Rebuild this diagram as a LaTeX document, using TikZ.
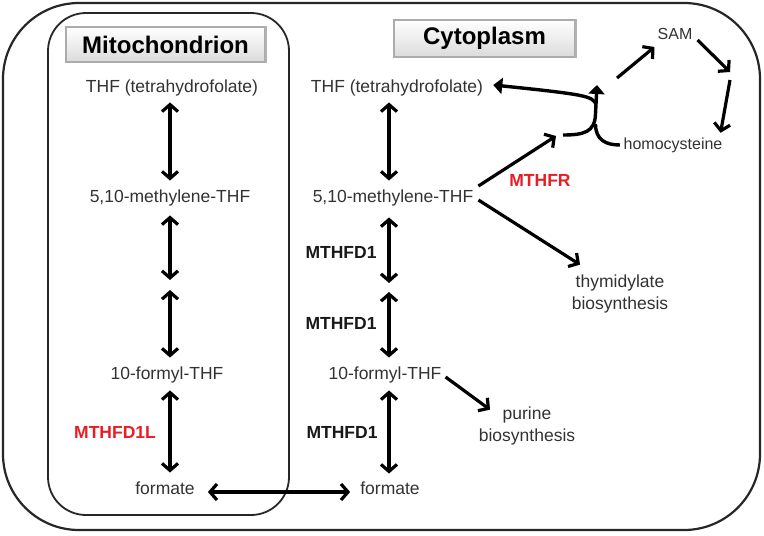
\documentclass[tikz,border=0pt]{standalone}
\usepackage{fontspec}
\setmainfont{Liberation Sans}
\usetikzlibrary{arrows.meta}
\definecolor{txt}{RGB}{50,50,50}
\definecolor{enz}{RGB}{25,25,25}
\definecolor{redenz}{RGB}{232,30,38}
\begin{document}
\begin{tikzpicture}[x=1pt,y=-1pt,
  lbl/.style={font=\fontsize{17.5}{22}\selectfont, text=txt, inner sep=0pt, text height=12.5pt, text depth=4pt},
  prod/.style={font=\fontsize{17.5}{22}\selectfont, text=txt, inner sep=0pt, align=center},
  small/.style={font=\fontsize{16}{19}\selectfont, text=txt, inner sep=0pt, text height=11.5pt, text depth=3.5pt},
  enzyme/.style={font=\fontsize{17.5}{20}\selectfont\bfseries, text=enz, inner sep=0pt},
  redenzyme/.style={enzyme, text=redenz},
  header/.style={font=\fontsize{24}{28}\selectfont\bfseries, text=black, draw=gray!65, line width=1.2pt, top color=white, bottom color=gray!28, inner sep=0pt},
  rxn/.style={line width=3.2pt, {Straight Barb[length=7pt,width=16pt]}-{Straight Barb[length=7pt,width=16pt]}},
  fwd/.style={line width=3.2pt, -{Straight Barb[length=7pt,width=16pt]}},
  curl/.style={line width=3.4pt},
  bigtip/.style={line width=3.4pt, -{Triangle[length=9pt,width=16pt]}},
  compartment/.style={draw=black!85},
]
\useasboundingbox (0,0) rectangle (764,536);

% compartments
\draw[compartment, line width=2.2pt, rounded corners=76pt] (3,3) rectangle (760,530);
\draw[compartment, line width=1.8pt, rounded corners=38pt] (48,13) rectangle (289,515);

% headers
\node[header, minimum width=199pt, minimum height=35pt] (hMito) at (165.5,44.5) {Mitochondrion};
\node[header, minimum width=181pt, minimum height=37pt] (hCyto) at (484.5,38.5) {Cytoplasm};
\draw[gray!60, line width=2pt] (hMito.north east) -- (hMito.south east);
\draw[gray!60, line width=2pt] (hCyto.north east) -- (hCyto.south east);

% column axes
\coordinate (mCol) at (170,0);
\coordinate (cCol) at (389,0);

% mitochondrion column
\node[lbl] (mTHF) at (172,88) {THF (tetrahydrofolate)};
\node[lbl] (mMeth) at (170,198) {5,10-methylene-THF};
\coordinate (mMid) at (170,285);
\node[lbl] (mForm) at (167,375) {10-formyl-THF};
\node[lbl] (mFormate) at (165,490) {formate};
\node[redenzyme] (mL) at (115,432) {MTHFD1L};

\draw[rxn, shorten <=6pt, shorten >=9pt] (mTHF.south -| mCol) -- (mMeth.north -| mCol);
\draw[rxn, shorten <=9pt, shorten >=5pt] (mMeth.south -| mCol) -- (mMid);
\draw[rxn, shorten <=5pt, shorten >=9pt] (mMid) -- (mForm.north -| mCol);
\draw[rxn, shorten <=7pt, shorten >=9pt] (mForm.south -| mCol) -- (mFormate.north -| mCol);

% cytoplasm column
\node[lbl] (cTHF) at (397,88) {THF (tetrahydrofolate)};
\node[lbl] (cMeth) at (393,198) {5,10-methylene-THF};
\coordinate (cMid) at (389,287.5);
\node[lbl] (cForm) at (385,375) {10-formyl-THF};
\node[lbl] (cFormate) at (390,490) {formate};
\node[enzyme] (e1) at (341,252) {MTHFD1};
\node[enzyme] (e2) at (341,323) {MTHFD1};
\node[enzyme] (e3) at (342,432) {MTHFD1};

\draw[rxn, shorten <=6pt, shorten >=9pt] (cTHF.south -| cCol) -- (cMeth.north -| cCol);
\draw[rxn, shorten <=11pt, shorten >=4.5pt] (cMeth.south -| cCol) -- (cMid);
\draw[rxn, shorten <=4.5pt, shorten >=9pt] (cMid) -- (cForm.north -| cCol);
\draw[rxn, shorten <=7pt, shorten >=8pt] (cForm.south -| cCol) -- (cFormate.north -| cCol);

% formate exchange
\draw[rxn, shorten <=13pt, shorten >=10pt] ([yshift=-2pt]mFormate.east) -- ([yshift=-2pt]cFormate.west);

% products
\node[prod] (thy) at (620,294) {thymidylate\\biosynthesis};
\node[prod] (pur) at (527,426) {purine\\biosynthesis};
\draw[fwd] ([shift={(5pt,-2pt)}]cMeth.east) -- ([shift={(-40pt,10pt)}]thy.north);
\draw[fwd] ([shift={(4pt,-2pt)}]cForm.east) -- ([shift={(-37pt,-3pt)}]pur.north);

% MTHFR branch and methionine cycle
\node[redenzyme] (mthfr) at (540,180) {MTHFR};
\node[small] (sam) at (675,35) {SAM};
\node[small] (hcy) at (673,145) {homocysteine};
\coordinate (jIn) at (556,136);
\coordinate (jL) at (563,135);
\coordinate (jTop) at (597,85);
\coordinate (jMid) at (596,104);
\coordinate (jOut) at (617,78);
\coordinate (cyc1) at (730,72);
\coordinate (cyc2) at (730,80);

\draw[fwd] ([shift={(5pt,12pt)}]cMeth.east) -- (jIn);
\draw[bigtip] (jL) .. controls (584,135) and (595,132) .. (595.5,114) -- (jTop);
\draw[curl] ([xshift=-3.5pt]hcy.west) .. controls (606,145) and (595.5,140) .. (595.5,124);
\draw[bigtip] (jMid) .. controls (592,96) and (585,94.5) .. ([shift={(10pt,3pt)}]cTHF.east);
\draw[fwd] (jOut) -- ([shift={(-3pt,-12pt)}]sam.west);
\draw[fwd] ([shift={(5pt,-5pt)}]sam.east) -- (cyc1);
\draw[fwd] (cyc2) -- ([shift={(-2pt,4.5pt)}]hcy.north east);
\end{tikzpicture}
\end{document}
